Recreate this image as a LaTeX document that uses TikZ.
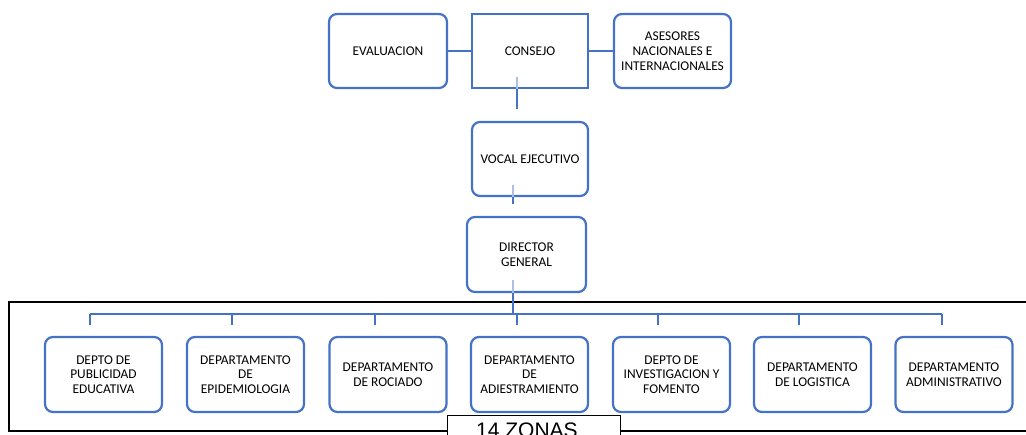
\documentclass[tikz,border=0pt]{standalone}
\usepackage{fontspec}
\setmainfont{Carlito}
\newfontfamily\arialf{Liberation Sans}
\definecolor{obl}{HTML}{4472C4}
\tikzset{
 box/.style={draw=obl, line width=2.2pt, rounded corners=8pt, minimum width=117pt, minimum height=75pt, align=center, font=\fontsize{13.4}{14.8}\selectfont, inner sep=2pt},
 sq/.style={box, rounded corners=0pt, line width=2.6pt},
 con/.style={draw=obl, line width=2pt},
 faint/.style={draw=obl!45, line width=2pt},
 drop/.style={con},
}
\begin{document}
\begin{tikzpicture}[x=1pt,y=-1pt]
\useasboundingbox (0,0) rectangle (1026,434);
\clip (0,0) rectangle (1026,434);
% frame
\draw[line width=2pt] (9,302) rectangle (1045,431);
% top row
\node[box, minimum width=118pt, minimum height=74pt] (eval) at (388,51) {EVALUACION};
\node[sq, minimum width=116pt, minimum height=74pt] (consejo) at (530,51) {CONSEJO};
\node[box, minimum width=117pt, minimum height=74pt] (ases) at (672.5,51) {ASESORES\\NACIONALES E\\INTERNACIONALES};
\node[box, minimum width=116pt, minimum height=74pt] (vocal) at (530,159) {VOCAL EJECUTIVO};
\node[box, minimum width=119pt, minimum height=75pt] (dir) at (526.5,254.5) {DIRECTOR\\GENERAL};
% departments
\node[box] (d1) at (103.5,374.5) {DEPTO DE\\PUBLICIDAD\\EDUCATIVA};
\node[box] (d2) at (245.5,374.5) {DEPARTAMENTO\\DE\\EPIDEMIOLOGIA};
\node[box] (d3) at (388,374.5) {DEPARTAMENTO\\DE ROCIADO};
\node[box] (d4) at (529.5,374.5) {DEPARTAMENTO\\DE\\ADIESTRAMIENTO};
\node[box] (d5) at (671.5,374.5) {DEPTO DE\\INVESTIGACION Y\\FOMENTO};
\node[box] (d6) at (812.5,374.5) {DEPARTAMENTO\\DE LOGISTICA};
\node[box] (d7) at (954,374.5) {DEPARTAMENTO\\ADMINISTRATIVO};
% connectors top
\draw[con] (eval.east) -- (consejo.west);
\draw[con] (consejo.east) -- (ases.west);
\coordinate (c0) at (517,77);
\coordinate (c1) at (517,109);
\draw[faint] (c0) -- ([xshift=-13pt]consejo.south);
\draw[con] ([xshift=-13pt]consejo.south) -- (c1);
\coordinate (v0) at (513,185);
\coordinate (v1) at (513,204);
\draw[faint] (v0) -- ([xshift=-17pt]vocal.south);
\draw[con] ([xshift=-17pt]vocal.south) -- (v1);
\coordinate (r0) at (513,280);
\coordinate (bus) at (513,314);
\draw[faint] (r0) -- ([xshift=-13.5pt]dir.south);
\draw[con] ([xshift=-13.5pt]dir.south) -- (bus);
% bus
\coordinate (bl) at (90,314);
\coordinate (br) at (942,314);
\draw[con] (bl) -- (br);
\foreach \n/\x in {d1/90,d2/232,d3/375,d4/517,d5/658,d6/799,d7/942}{
  \draw[drop] (\x,314) -- (\x,325);
}
% zonas
\node[draw, fill=white, line width=1pt, minimum width=173pt, minimum height=40pt, anchor=north west, inner sep=0pt] (zbox) at (447,415) {};
\node[anchor=base, inner sep=0pt, font=\arialf\fontsize{21}{24}\selectfont] (zonas) at (527,437) {14 ZONAS};
\end{tikzpicture}
\end{document}
